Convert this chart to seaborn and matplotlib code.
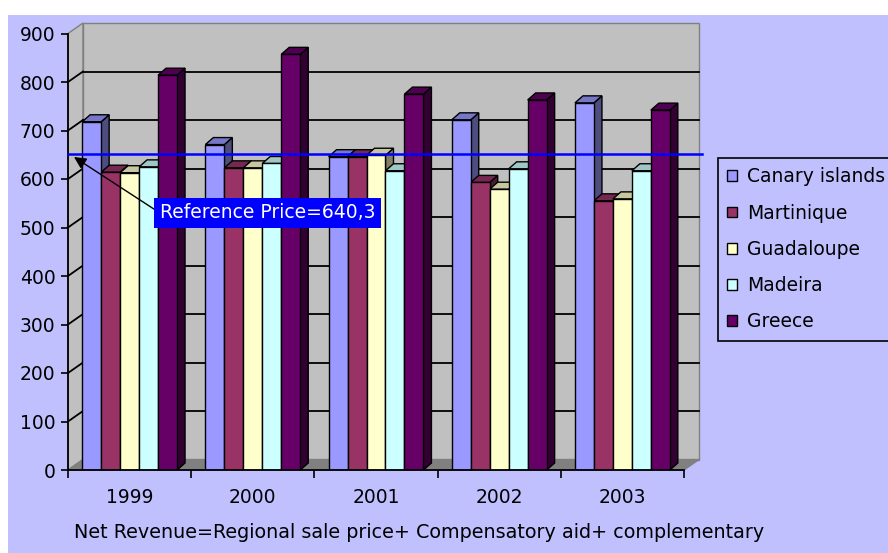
import matplotlib
matplotlib.use("Agg")
import matplotlib.pyplot as plt
import matplotlib.transforms as mtransforms
from matplotlib.patches import Polygon, Rectangle, Patch
from matplotlib.lines import Line2D
import numpy as np
import pandas as pd
import seaborn as sns

# ---- data -------------------------------------------------------------
years = ["1999", "2000", "2001", "2002", "2003"]
regions = ["Canary islands", "Martinique", "Guadaloupe", "Madeira", "Greece"]
canary = [718, 671, 646, 722, 757]
martinique = [614, 623, 646, 593, 555]
guadaloupe = [613, 623, 649, 579, 559]
madeira = [625, 632, 617, 621, 617]
greece = [814, 857, 775, 763, 742]
reference_price = 640.3
reference_label = "Reference Price=640,3"
x_title = "Net Revenue=Regional sale price+ Compensatory aid+ complementary"
y_ticks = [0, 100, 200, 300, 400, 500, 600, 700, 800, 900]

colors = ["#9999FF", "#993366", "#FFFFCC", "#CCFFFF", "#660066"]
BG = "#C0C0FF"
WALL = "#C0C0C0"
FLOOR = "#808080"
FS = 13.5

series = [canary, martinique, guadaloupe, madeira, greece]
df = pd.DataFrame(
    [(y, r, v) for r, vals in zip(regions, series) for y, v in zip(years, vals)],
    columns=["year", "region", "value"],
)

# ---- figure -----------------------------------------------------------
W, H = 888, 553
plt.rcParams["font.family"] = ["DejaVu Sans"]
fig = plt.figure(figsize=(W / 100, H / 100), dpi=100)
fig.patch.set_facecolor("white")
fig.add_artist(Rectangle((8 / W, 0), (W - 8) / W, (H - 15) / H,
                         transform=fig.transFigure, facecolor=BG,
                         edgecolor="none", zorder=-10))

ax = fig.add_axes([68 / W, 83 / H, 616 / W, 436.5 / H])
ax.patch.set_visible(False)

sns.barplot(data=df, x="year", y="value", hue="region", palette=colors,
            saturation=1, width=0.77, edgecolor="black", linewidth=1,
            legend=False, ax=ax)
bars = [p for p in ax.patches if isinstance(p, Rectangle)]
ax.set_xlim(-0.5, 4.5)
ax.set_ylim(0, 900)
ax.set_xlabel("")
ax.set_ylabel("")

# pseudo-3D box: depth offsets in display pixels
WX, WY = 15, 10.5      # wall depth
BX, BY = 8, 7          # bar depth
ident = mtransforms.IdentityTransform()
to_disp = ax.transData.transform

x0, y0 = to_disp((-0.5, 0))
x1, yt = to_disp((4.5, 900))

left_wall = Polygon([(x0, y0), (x0 + WX, y0 + WY), (x0 + WX, yt + WY), (x0, yt)],
                    closed=True, facecolor=WALL, edgecolor=FLOOR, lw=1,
                    transform=ident, clip_on=False, zorder=0)
back_wall = Polygon([(x0 + WX, y0 + WY), (x1 + WX, y0 + WY),
                     (x1 + WX, yt + WY), (x0 + WX, yt + WY)],
                    closed=True, facecolor=WALL, edgecolor=FLOOR, lw=1,
                    transform=ident, clip_on=False, zorder=0)
floor = Polygon([(x0, y0), (x1, y0), (x1 + WX, y0 + WY), (x0 + WX, y0 + WY)],
                closed=True, facecolor=FLOOR, edgecolor=FLOOR, lw=1,
                transform=ident, clip_on=False, zorder=0.6)
for p in (left_wall, back_wall, floor):
    ax.add_artist(p)

for v in y_ticks[1:-1]:
    _, yv = to_disp((0, v))
    ax.add_artist(Line2D([x0 + WX, x1 + WX], [yv + WY, yv + WY], color="black",
                         lw=1.3, transform=ident, clip_on=False, zorder=0.5))
    ax.add_artist(Line2D([x0, x0 + WX], [yv, yv + WY], color="black",
                         lw=1.3, transform=ident, clip_on=False, zorder=0.5))


def shade(c, f):
    r, g, b, a = c
    return (r * f, g * f, b * f, 1)


for bar in bars:
    bar.set_zorder(4)
    bx0, by0 = to_disp((bar.get_x(), 0))
    bx1, by1 = to_disp((bar.get_x() + bar.get_width(), bar.get_height()))
    fc = bar.get_facecolor()
    side = Polygon([(bx1, by0), (bx1 + BX, by0 + BY), (bx1 + BX, by1 + BY), (bx1, by1)],
                   closed=True, facecolor=shade(fc, 0.5), edgecolor="black",
                   lw=1, transform=ident, clip_on=False, zorder=2)
    top = Polygon([(bx0, by1), (bx1, by1), (bx1 + BX, by1 + BY), (bx0 + BX, by1 + BY)],
                  closed=True, facecolor=shade(fc, 0.78), edgecolor="black",
                  lw=1, transform=ident, clip_on=False, zorder=3)
    ax.add_artist(side)
    ax.add_artist(top)

# reference price line, drawn at mid depth of the box
_, yref = to_disp((0, reference_price))
ax.add_artist(Line2D([x0, x1 + WX + 3], [yref + WY / 2, yref + WY / 2],
                     color="#0000FF", lw=1.8, transform=ident, clip_on=False,
                     zorder=8))

# axes and ticks
for s in ("top", "right"):
    ax.spines[s].set_visible(False)
for s in ("left", "bottom"):
    ax.spines[s].set_color("black")
    ax.spines[s].set_linewidth(1.3)
    ax.spines[s].set_zorder(6)
ax.set_yticks(y_ticks)
ax.set_yticklabels([str(v) for v in y_ticks])
ax.tick_params(axis="y", length=5, width=1.2, pad=4, labelsize=FS,
               direction="out", colors="black")
ax.set_xticks(range(len(years)))
ax.set_xticklabels(years)
ax.set_xticks(np.arange(-0.5, len(years), 1.0), minor=True)
ax.tick_params(axis="x", which="major", length=0, pad=13, labelsize=FS,
               colors="black")
ax.tick_params(axis="x", which="minor", length=6, width=1.2, direction="out",
               colors="black")

fig.text(419 / W, 1 - 533 / H, x_title, ha="center", va="center",
         fontsize=13.8, color="black")

ax.annotate(reference_label, xy=(74, H - 157), xycoords="figure pixels",
            xytext=(160, H - 213), textcoords="figure pixels",
            ha="left", va="center", color="white", fontsize=FS,
            bbox=dict(boxstyle="square,pad=0.3", fc="#0000FF", ec="none"),
            arrowprops=dict(arrowstyle="-|>", color="black", lw=1,
                            mutation_scale=18, shrinkA=0, shrinkB=0,
                            relpos=(0, 0.5)),
            zorder=10, annotation_clip=False)

handles = [Patch(facecolor=c, edgecolor="black", lw=1) for c in colors]
leg = fig.legend(handles, regions, loc="upper left",
                 bbox_to_anchor=(718 / W, 1 - 158 / H),
                 bbox_transform=fig.transFigure, frameon=True, fancybox=False,
                 edgecolor="black", facecolor=BG, framealpha=1, fontsize=FS,
                 handlelength=0.5, handleheight=0.5, handletextpad=0.55,
                 labelspacing=0.92, borderpad=0.5, borderaxespad=0)
leg.get_frame().set_linewidth(1.2)

fig.savefig("out.png", dpi=100)
